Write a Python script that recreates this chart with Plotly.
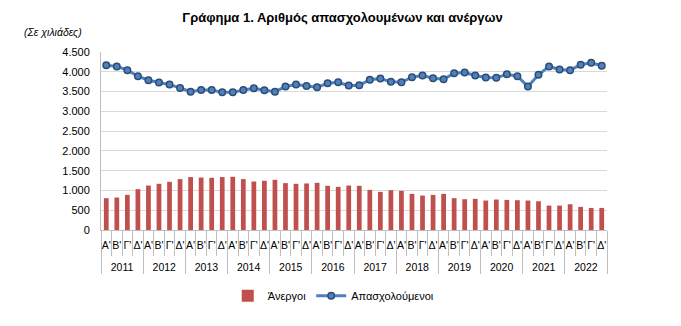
import plotly.graph_objects as go

years = [str(y) for y in range(2011, 2023)]
quarters = ["Α'", "Β'", "Γ'", "Δ'"]

unemployed = [805, 820, 888, 1033, 1124, 1168, 1218, 1287, 1338, 1327, 1320, 1338,
              1345, 1287, 1226, 1244, 1269, 1185, 1168, 1176, 1193, 1117, 1091, 1124,
              1117, 1015, 964, 1007, 990, 913, 871, 888, 913, 805, 778, 787,
              744, 770, 761, 753, 744, 727, 617, 617, 651, 584, 558, 558]

employed = [4168, 4135, 4041, 3888, 3786, 3727, 3676, 3592, 3497, 3540, 3540, 3480,
            3480, 3540, 3582, 3531, 3497, 3625, 3676, 3643, 3607, 3710, 3735, 3650,
            3660, 3800, 3829, 3745, 3735, 3862, 3905, 3837, 3811, 3964, 3982, 3905,
            3855, 3847, 3939, 3888, 3625, 3922, 4135, 4058, 4041, 4178, 4229, 4153]

x_outer = [y for y in years for _ in quarters]
# a blank second line under each quarter label widens the gap to the year row
x_inner = [q + "<br>&nbsp;" for _ in years for q in quarters]

fig = go.Figure()
fig.add_trace(go.Bar(
    x=[x_outer, x_inner], y=unemployed, name="Άνεργοι",
    marker=dict(color="#C0504D", line=dict(width=0)),
))
fig.add_trace(go.Scatter(
    x=[x_outer, x_inner], y=employed, name="Απασχολούμενοι",
    mode="lines+markers",
    line=dict(color="#4F81BD", width=3),
    marker=dict(symbol="circle", size=6.5, color="#4F81BD",
                line=dict(color="#2C4D75", width=1.5)),
))

fig.update_layout(
    width=681, height=326,
    margin=dict(l=101, r=74, t=52, b=96),
    paper_bgcolor="white", plot_bgcolor="white",
    separators=",.",
    bargap=0.55,
    font=dict(family="Liberation Sans, Arial, sans-serif", size=11, color="#000000"),
    title=dict(text="<b>Γράφημα 1. Αριθμός απασχολουμένων και ανέργων</b>",
               x=0.503, xanchor="center", y=0.948, yanchor="middle",
               font=dict(size=13, color="#000000")),
    legend=dict(orientation="h", x=0.46, xanchor="center", y=-0.37, yanchor="middle",
                font=dict(size=11), traceorder="normal", itemwidth=30),
    showlegend=True,
    annotations=[dict(text="<i>(Σε χιλιάδες)</i>", xref="paper", yref="paper",
                      x=-0.157, y=1.11, xanchor="left", yanchor="middle",
                      showarrow=False, font=dict(size=10.5, color="#000000"))],
)

fig.update_yaxes(
    range=[0, 4500], dtick=500, tickformat=",d",
    showgrid=True, gridcolor="#D9D9D9", gridwidth=1,
    showline=True, linecolor="#BFBFBF", linewidth=1,
    zeroline=False, ticks="", ticklabelstandoff=8,
    tickfont=dict(size=11, color="#000000"),
)
fig.update_xaxes(
    type="multicategory",
    range=[-0.5, 47.5], autorange=False,
    tickmode="linear", tick0=0, dtick=1,
    tickangle=0,
    showline=True, linecolor="#BFBFBF", linewidth=1,
    ticks="outside", ticklen=25, tickcolor="#BFBFBF",
    ticklabelstandoff=5,
    showdividers=True, dividercolor="#BFBFBF", dividerwidth=1,
    tickfont=dict(size=10.5, color="#000000"),
    showgrid=False,
)

fig.write_html("out.html")
